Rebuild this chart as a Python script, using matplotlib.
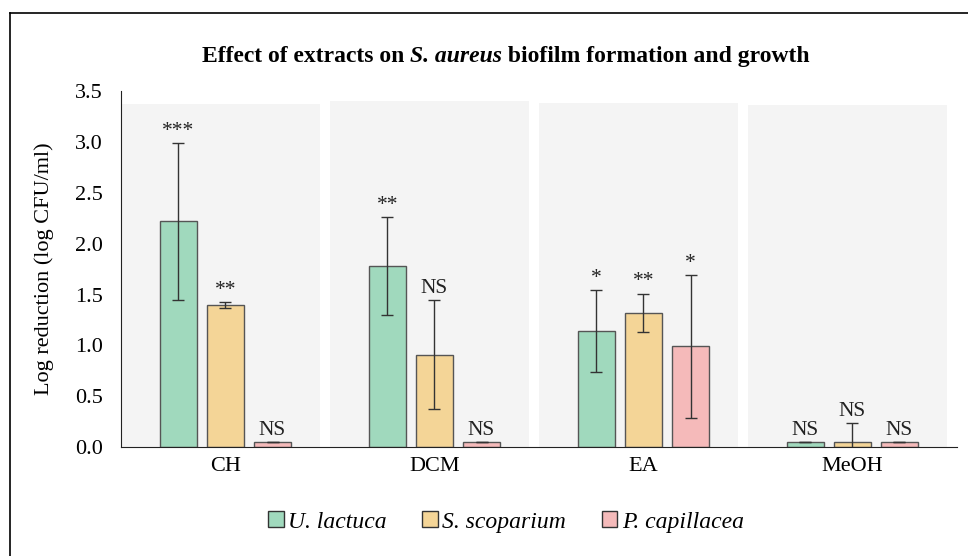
import numpy as np
import matplotlib.pyplot as plt
from matplotlib.lines import Line2D
from matplotlib.patches import Patch

plt.rcParams['font.family'] = ['Liberation Serif', 'DejaVu Serif']

categories = ['CH', 'DCM', 'EA', 'MeOH']
species = ['U. lactuca', 'S. scoparium', 'P. capillacea']

# log reduction means and error (half-range)
u_lactuca = [2.22, 1.78, 1.14, 0.05]
u_lactuca_err = [0.77, 0.48, 0.40, 0.0]
s_scoparium = [1.40, 0.91, 1.32, 0.05]
s_scoparium_err = [0.03, 0.54, 0.19, 0.19]
p_capillacea = [0.05, 0.05, 0.99, 0.05]
p_capillacea_err = [0.0, 0.0, 0.70, 0.0]

u_lactuca_sig = ['***', '**', '*', 'NS']
s_scoparium_sig = ['**', 'NS', '**', 'NS']
p_capillacea_sig = ['NS', 'NS', '*', 'NS']

panel_height = [3.37, 3.40, 3.38, 3.36]

colors = ['#a0d9bd', '#f4d597', '#f5baba']
edge = '#555555'

fig = plt.figure(figsize=(9.68, 5.56), dpi=100)
ax = fig.add_axes([0.125, 0.196, 0.8636, 0.640])

x = np.arange(len(categories))
ax.bar(x - 0.025, panel_height, width=0.95, color='#f4f4f4', zorder=0)

offsets = [-0.225, 0.0, 0.225]
width = 0.177
series = [
    (u_lactuca, u_lactuca_err, u_lactuca_sig),
    (s_scoparium, s_scoparium_err, s_scoparium_sig),
    (p_capillacea, p_capillacea_err, p_capillacea_sig),
]
for i, (vals, errs, sigs) in enumerate(series):
    pos = x + offsets[i]
    ax.bar(pos, vals, width=width, color=colors[i], edgecolor=edge,
           linewidth=1.0, zorder=2)
    ax.errorbar(pos, vals, yerr=errs, fmt='none', ecolor='#333333',
                elinewidth=1.0, capsize=4, capthick=1.0, zorder=3)
    for p, v, e, s in zip(pos, vals, errs, sigs):
        ax.annotate(s, (p, v + e), xytext=(0, 1.5), textcoords='offset points',
                    ha='center', va='bottom', fontsize=15.5, color='#222222',
                    zorder=4)

ax.set_xlim(-0.5, 3.5)
ax.set_ylim(0, 3.5)
ax.set_yticks(np.arange(0, 3.51, 0.5))
ax.set_yticklabels([f'{t:.1f}' for t in np.arange(0, 3.51, 0.5)])
ax.set_xticks(x)
ax.set_xticklabels(categories)
ax.tick_params(axis='both', length=0, labelsize=16, colors='black')
ax.tick_params(axis='x', pad=7)
ax.tick_params(axis='y', pad=13)
for s in ['top', 'right']:
    ax.spines[s].set_visible(False)
ax.spines['left'].set_color('#222222')
ax.spines['bottom'].set_color('#222222')
ax.set_ylabel('Log reduction (log CFU/ml)', fontsize=16, labelpad=15)

# title made of bold and bold-italic pieces
fig.canvas.draw()
renderer = fig.canvas.get_renderer()
pieces = [('Effect of extracts on ', 'normal'), ('S. aureus', 'italic'),
          (' biofilm formation and growth', 'normal')]
texts = []
for txt, style in pieces:
    t = fig.text(0, 0.8975, txt, fontsize=17, fontweight='bold', style=style,
                 va='center', ha='left')
    texts.append(t)
widths = [t.get_window_extent(renderer).width for t in texts]
total = sum(widths)
start = 506 - total / 2
for t, w in zip(texts, widths):
    t.set_x(start / 968)
    start += w

handles = [Patch(facecolor=c, edgecolor='#333333', linewidth=1.0) for c in colors]
leg = fig.legend(handles, species, loc='center', bbox_to_anchor=(506 / 968, 0.061),
                 ncol=3, frameon=False, handlelength=0.65, handleheight=0.65,
                 handletextpad=0.2, columnspacing=1.5,
                 prop={'family': 'Liberation Serif', 'style': 'italic', 'size': 17})

# outer frame
fig.add_artist(Line2D([10 / 968, 1.0], [1 - 13 / 556, 1 - 13 / 556],
                      transform=fig.transFigure, color='black', linewidth=1.2))
fig.add_artist(Line2D([10 / 968, 10 / 968], [0.0, 1 - 13 / 556],
                      transform=fig.transFigure, color='black', linewidth=1.2))

fig.savefig('out.png', dpi=100)
